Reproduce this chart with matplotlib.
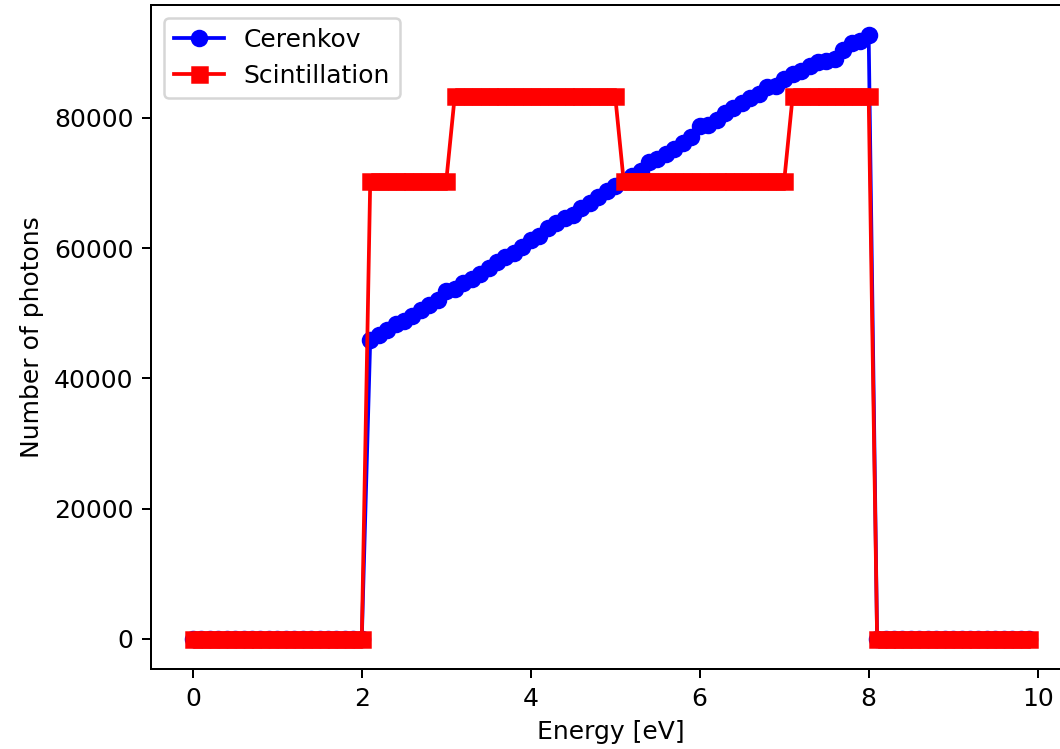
import numpy as np
import matplotlib
matplotlib.use('Agg')
import matplotlib.pyplot as plt

# energy grid, 0.1 eV steps
energy = np.round(np.arange(0, 10, 0.1), 1)

# cerenkov photons, nonzero from 2.1 eV to 8.0 eV
cerenkov_mid = [45900, 46600, 47500, 48400, 48800, 49600, 50500, 51200, 52000, 53400,
                53700, 54600, 55300, 56000, 56900, 57800, 58600, 59300, 60200, 61200,
                61900, 63100, 63800, 64700, 65100, 66200, 67000, 67800, 68700, 69500,
                70300, 71000, 71900, 73300, 73700, 74400, 75200, 76100, 77100, 78700,
                78900, 79700, 80800, 81500, 82300, 83100, 83700, 84700, 84900, 85900,
                86700, 87200, 88000, 88600, 88800, 89100, 90500, 91500, 91800, 92700]
cerenkov = [0] * 21 + cerenkov_mid + [0] * 19

# scintillation photons, step levels
scint_mid = [70300] * 10 + [83300] * 20 + [70300] * 20 + [83300] * 10
scintillation = [0] * 21 + scint_mid + [0] * 19

fig = plt.figure(figsize=(1060 / 180, 749 / 180), dpi=180)
ax = fig.add_axes([151 / 1060, 1 - 669 / 749, 920 / 1060, 664 / 749])

ax.plot(energy, cerenkov, 'b-o', label='Cerenkov')
ax.plot(energy, scintillation, 'r-s', label='Scintillation')
ax.set_xlabel('Energy [eV]')
ax.set_ylabel('Number of photons')
ax.legend(loc='upper left')

fig.savefig('out.png', dpi=180)
